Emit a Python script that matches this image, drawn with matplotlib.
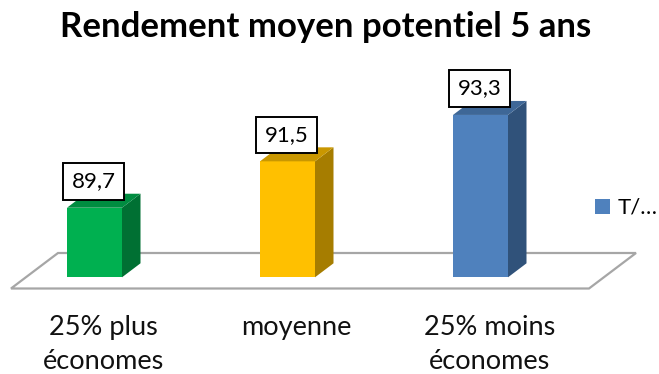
import matplotlib
matplotlib.use("Agg")
import matplotlib.pyplot as plt
from matplotlib.patches import Patch, Polygon
from matplotlib.transforms import ScaledTranslation

categories = ["25% plus\néconomes", "moyenne", "25% moins\néconomes"]
values = [89.7, 91.5, 93.3]
labels = ["89,7", "91,5", "93,3"]
series_name = "T/…"
title = "Rendement moyen potentiel 5 ans"

FRONT = ["#00B050", "#FFC000", "#4F81BD"]
SIDE = ["#007033", "#A67D00", "#30527A"]
TOP = ["#008C40", "#C99700", "#3E6797"]
FLOOR = "#A6A6A6"

W, H = 659, 374
BASE = 87
PX_X = 193.0   # pixels per category
PX_Y = 25.77   # pixels per value unit
DX = 18.5 / PX_X
DY = 14 / PX_Y

plt.rcParams["font.family"] = ["Lato", "DejaVu Sans"]

fig = plt.figure(figsize=(W / 100, H / 100), dpi=100)
fig.patch.set_facecolor("white")

# axes spans the plot area, bottom edge just under the floor
ax_bottom = 296
ax = fig.add_axes([0, 1 - ax_bottom / H, 1, ax_bottom / H])
ax.set_xlim(-94.5 / PX_X, (W - 94.5) / PX_X)
ax.set_ylim(BASE - (ax_bottom - 277.3) / PX_Y, BASE + 277.3 / PX_Y)
ax.patch.set_visible(False)
for s in ax.spines.values():
    s.set_visible(False)

# floor, in figure pixels
floor_px = [(11, 288.5), (58, 253), (636, 253), (589, 288.5)]
floor = Polygon([(x / W, 1 - y / H) for x, y in floor_px], closed=True,
                facecolor="white", edgecolor=FLOOR, linewidth=1.6,
                transform=fig.transFigure, zorder=1)
ax.add_patch(floor)

x = list(range(len(categories)))
width = 55 / PX_X
ax.bar(x, [v - BASE for v in values], bottom=BASE, width=width,
       color=FRONT, linewidth=0, zorder=3)

for i, v in enumerate(values):
    r = i + width / 2
    l = i - width / 2
    ax.add_patch(Polygon([(r, BASE), (r + DX, BASE + DY), (r + DX, v + DY), (r, v)],
                         facecolor=SIDE[i], edgecolor="none", zorder=3))
    ax.add_patch(Polygon([(l, v), (l + DX, v + DY), (r + DX, v + DY), (r, v)],
                         facecolor=TOP[i], edgecolor="none", zorder=3))
    ax.annotate(labels[i], (i, v), xytext=(-0.5, 19), textcoords="offset points",
                ha="center", va="center", fontsize=16, color="black", zorder=5,
                bbox=dict(boxstyle="square,pad=0.38", fc="white", ec="black", lw=1.4))

ax.set_xticks(x)
ax.set_xticklabels(categories, fontsize=19.5, color="#111111", linespacing=1.42)
ax.set_yticks([])
ax.tick_params(axis="x", length=0, pad=14)
# labels sit under the middle of the bar including its depth
shift = ScaledTranslation(9 / 100, 0, fig.dpi_scale_trans)
for t in ax.get_xticklabels():
    t.set_transform(t.get_transform() + shift)

fig.text(326 / W, 1 - 27 / H, title, ha="center", va="center",
         fontsize=25, fontweight="bold", color="black")

fig.legend(handles=[Patch(facecolor=FRONT[2], label=series_name)],
           loc="center left", bbox_to_anchor=(588 / W, 1 - 208 / H), frameon=False,
           fontsize=16, handlelength=0.68, handleheight=0.68, handletextpad=0.35,
           borderpad=0, borderaxespad=0.3)

fig.savefig("out.png", dpi=100, facecolor="white")
